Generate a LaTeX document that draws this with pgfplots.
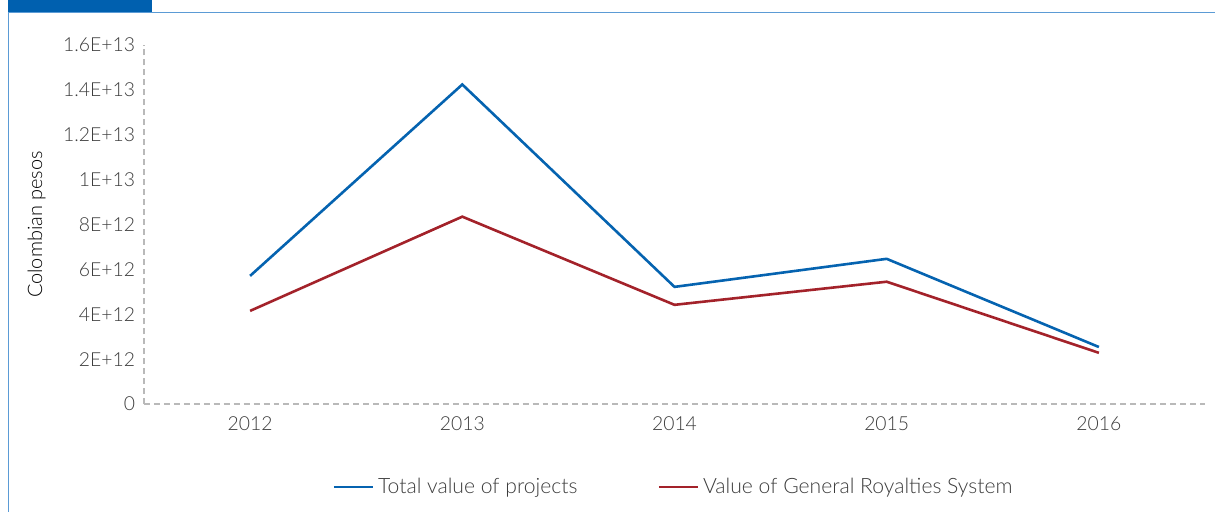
\documentclass[border=0pt]{standalone}
\usepackage{pgfplots}
\pgfplotsset{compat=1.18}
\usepackage{fontspec}
\setmainfont{Lato Light}
\definecolor{cblue}{HTML}{0563B0}
\definecolor{cred}{HTML}{A3222A}
\definecolor{frameblue}{HTML}{0060AF}
\definecolor{framelight}{HTML}{5B9BD5}
\definecolor{txt}{HTML}{3C3C3C}
\begin{document}
\begin{tikzpicture}
\useasboundingbox (0,0) rectangle (607.5bp,-256bp);
\fill[frameblue] (4bp,0) rectangle (76bp,-6bp);
\draw[framelight, line width=0.6bp] (4bp,-6.2bp) -- (607.5bp,-6.2bp);
\draw[framelight, line width=0.6bp] (4.2bp,-6bp) -- (4.2bp,-256bp);
\begin{axis}[
  at={(72bp,-202bp)}, anchor=south west,
  scale only axis, width=530.5bp, height=179.5bp,
  xmin=-0.5, xmax=4.5, ymin=0, ymax=1.6e13,
  axis x line=bottom, axis y line=left,
  axis line style={densely dashed, gray!55, line width=0.6bp, -},
  scaled y ticks=false,
  xtick={0,1,2,3,4}, xticklabels={2012,2013,2014,2015,2016},
  ytick={0,2e12,4e12,6e12,8e12,1e13,1.2e13,1.4e13,1.6e13},
  yticklabels={0,2E+12,4E+12,6E+12,8E+12,1E+13,1.2E+13,1.4E+13,1.6E+13},
  major tick length=0pt,
  tick label style={font=\fontsize{9.7}{11}\selectfont, text=txt},
  yticklabel style={xshift=-1bp},
  xticklabel style={yshift=-3bp},
  ylabel={Colombian pesos},
  ylabel style={font=\fontsize{10.2}{12}\selectfont, text=txt},
  every axis y label/.style={at={(ticklabel cs:0.5)}, rotate=90, anchor=south, yshift=2bp},
  legend style={at={(0.5,-0.231)}, anchor=center, draw=none, fill=none,
    legend columns=2, font=\fontsize{10.6}{12}\selectfont, text=txt,
    /tikz/every even column/.append style={column sep=38bp}},
  legend image code/.code={\draw[#1] (0bp,0bp) -- (19.5bp,0bp);},
  clip=false,
]
\addplot[cblue, line width=1.3bp] coordinates {(0,5.71e12) (1,14.24e12) (2,5.22e12) (3,6.47e12) (4,2.54e12)};
\addlegendentry{Total value of projects}
\addplot[cred, line width=1.3bp] coordinates {(0,4.15e12) (1,8.35e12) (2,4.42e12) (3,5.45e12) (4,2.28e12)};
\addlegendentry{Value of General Royalties System}
\end{axis}
\end{tikzpicture}
\end{document}
